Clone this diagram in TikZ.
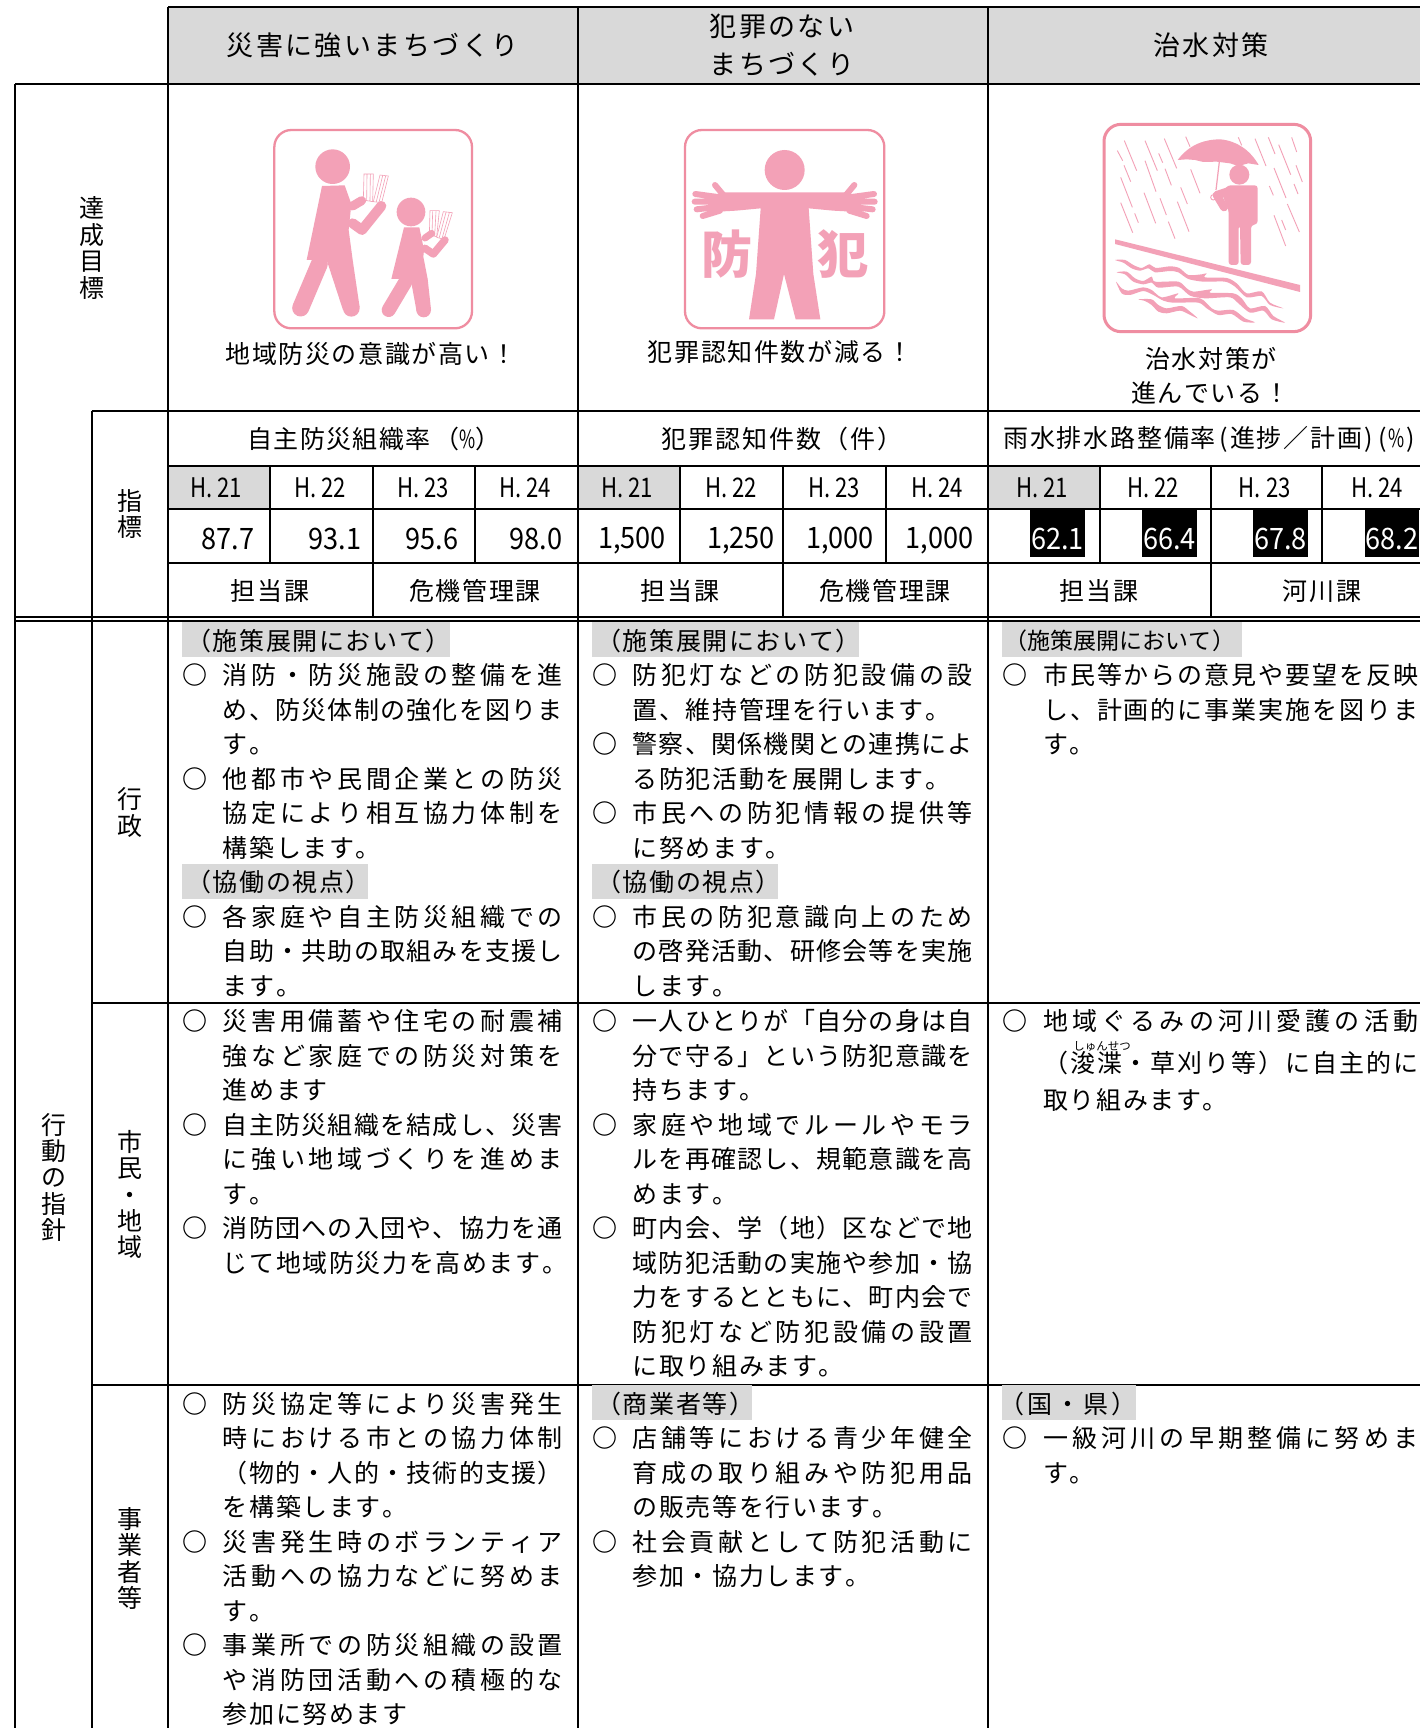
\documentclass[tikz,border=0pt]{standalone}
\usepackage{fontspec}
\usepackage{graphicx}
\setmainfont{Noto Sans CJK JP}
\definecolor{headgrey}{HTML}{D9D9D9}
\definecolor{bandgrey}{HTML}{D9D9D9}
\definecolor{iconpink}{HTML}{F3A1B7}
\definecolor{framepink}{HTML}{EF8DA1}
\newcounter{tn}
\makeatletter
\newcommand\spacedchars[2]{\def\sepx{}\@tfor\ccitem:=#2\do{\sepx\ccitem\def\sepx{#1}}}
\makeatother
\newcommand\jstrut{\rule[-.12em]{0pt}{1em}}
\newcommand\bodyfont{\fontsize{25}{25}\selectfont}
\newcommand\headfont{\fontsize{27}{27}\selectfont}
\newcommand\justl[4]{\stepcounter{tn}\node[txt,anchor=west] (t\thetn) at (#1,#2) {\hbox to #3pt{\spacedchars{\hfil}{#4}}\jstrut};}
\newcommand\natl[3]{\stepcounter{tn}\node[txt,anchor=west] (t\thetn) at (#1,#2) {\spacedchars{\kern1.6pt}{#3}\jstrut};}
\newcommand\ctr[4][1.6]{\stepcounter{tn}\node[txt,anchor=center] (t\thetn) at (#2,#3) {\spacedchars{\kern#1pt}{#4}\jstrut};}
\newcommand\hd[3]{\stepcounter{tn}\node[txt,font=\headfont,anchor=center] (t\thetn) at (#1,#2) {\spacedchars{\kern2.4pt}{#3}\jstrut};}
\newcommand\nbr[3]{\stepcounter{tn}\node[txt,font=\fontsize{29.5}{29.5}\selectfont,anchor=east] (t\thetn) at (#1,#2) {\scalebox{.92}[1]{#3}\jstrut};}
\newcommand\hyr[2]{\stepcounter{tn}\node[txt,font=\fontsize{27}{27}\selectfont,anchor=center] (t\thetn) at (#1,487) {\scalebox{.82}[1]{H. #2}\jstrut};}
\newcommand\blk[2]{\fill[black] ({#1-27.3},510) rectangle ({#1+27.3},557);\stepcounter{tn}\node[txt,text=white,font=\fontsize{29.5}{29.5}\selectfont,anchor=center] (t\thetn) at (#1,538) {\scalebox{.92}[1]{#2}\jstrut};}
\newcommand\setcol[3]{\def\colx{#1}\def\colw{#2}\def\circx{#3}}
\newcommand\setrow[1]{\def\rowy{#1}}
\newcommand\J[2]{\justl{\colx}{{\rowy+34.5*#1}}{\colw}{#2}}
\newcommand\N[2]{\natl{\colx}{{\rowy+34.5*#1}}{#2}}
\newcommand\Cj[2]{\stepcounter{tn}\node[txt,anchor=center] (t\thetn) at (\circx,{\rowy+34.5*#1}) {\bfseries ○\jstrut};\J{#1}{#2}}
\newcommand\Bg[2]{\stepcounter{tn}\node[anchor=west,fill=bandgrey,inner sep=0,minimum height=35pt,minimum width=#2pt] (b\thetn) at ({\circx-13},{\rowy+34.5*#1-1}) {};}
\newcommand\Bd[3]{\Bg{#1}{#2}\natl{{\circx-9}}{{\rowy+34.5*#1}}{#3}}
\tikzset{txt/.style={inner sep=0,font=\bodyfont,text=black},
 thickline/.style={line width=2pt,black},
 thinline/.style={line width=1.5pt,black},
 pinkfill/.style={fill=iconpink,draw=none},
 frame/.style={draw=framepink,rounded corners=17pt,fill=white},
 book/.style={draw=iconpink,fill=white,line width=.6pt},
 rain/.style={draw=iconpink,line width=.9pt}}
\begin{document}%
\begin{tikzpicture}[x=1pt,y=-1pt]
\path[use as bounding box,fill=white] (0,0) rectangle (1419,1728);
\clip (0,0) rectangle (1425,1728);
% header fill
\fill[headgrey] (168,6.6) rectangle (1430,84);
\fill[headgrey] (168,466) rectangle (270,509);
\fill[headgrey] (578,466) rectangle (680,509);
\fill[headgrey] (988,466) rectangle (1100,509);
% black cells
\blk{1057.5}{62.1}\blk{1169.5}{66.4}\blk{1280.5}{67.8}\blk{1392}{68.2}
% grid
\draw[thickline] (168,6.6) -- (1430,6.6);
\draw[thickline] (15,84) -- (1430,84);
\draw[thickline] (91.5,411) -- (1430,411);
\draw[thinline] (168,466) -- (1430,466);
\draw[thinline] (168,509) -- (1430,509);
\draw[thinline] (168,563) -- (1430,563);
\draw[thickline] (15,617) -- (1430,617);
\draw[thickline] (15,620.5) -- (1430,620.5);
\draw[thickline] (91.5,1003) -- (1430,1003);
\draw[thickline] (91.5,1385) -- (1430,1385);
\draw[thickline] (15,84) -- (15,1730);
\draw[thickline] (91.5,411) -- (91.5,1730);
\draw[thickline] (168,6.6) -- (168,1730);
\draw[thickline] (578,6.6) -- (578,1730);
\draw[thickline] (988,6.6) -- (988,1730);
\foreach \vx in {270,475,680,886,1100,1322}{\draw[thinline] (\vx,466) -- (\vx,563);}
\foreach \vx in {373,783,1211}{\draw[thinline] (\vx,466) -- (\vx,617);}
% headers
\hd{372.6}{45}{災害に強いまちづくり}
\hd{782}{26.5}{犯罪のない}
\hd{782}{64}{まちづくり}
\hd{1211}{45}{治水対策}
% side labels
\ctr{91.5}{208}{達}\ctr{91.5}{235}{成}\ctr{91.5}{261}{目}\ctr{91.5}{288}{標}
\ctr{130}{501}{指}\ctr{130}{527}{標}
\ctr{130}{799}{行}\ctr{130}{826}{政}
\ctr{130}{1142}{市}\ctr{130}{1168}{民}\ctr{130}{1195}{・}\ctr{130}{1221}{地}\ctr{130}{1247}{域}
\ctr{130}{1519}{事}\ctr{130}{1545}{業}\ctr{130}{1572}{者}\ctr{130}{1598}{等}
\ctr{54}{1124.5}{行}\ctr{54}{1151}{動}\ctr{54}{1177}{の}\ctr{54}{1204}{指}\ctr{54}{1230}{針}
% captions
\ctr{371}{354}{地域防災の意識が高い！}
\ctr{780}{352}{犯罪認知件数が減る！}
\ctr{1211}{359}{治水対策が}
\ctr{1210}{392.5}{進んでいる！}
% indicators
\stepcounter{tn}\node[txt,anchor=center] (t\thetn) at (374,439) {\spacedchars{\kern1.4pt}{自主防災組織率}\kern4pt （\scalebox{.7}[1]{\%}）\jstrut};
\ctr[1.9]{782}{439}{犯罪認知件数（件）}
\stepcounter{tn}\node[txt,anchor=west] (t\thetn) at (1003,439) {\hbox to 412pt{\spacedchars{\hfil}{雨水排水路整備率{\kern2pt (}進捗／計画{)\,}{(}{\scalebox{.7}[1]{\%}}{)}}\jstrut}};
\hyr{216}{21}\hyr{320}{22}\hyr{423}{23}\hyr{525}{24}
\hyr{627}{21}\hyr{731}{22}\hyr{834}{23}\hyr{937}{24}
\hyr{1042}{21}\hyr{1153}{22}\hyr{1264.7}{23}\hyr{1377}{24}
\nbr{254.6}{538}{87.7}\nbr{361.6}{538}{93.1}\nbr{458.6}{538}{95.6}\nbr{562.5}{538}{98.0}
\nbr{666}{538}{1,500}\nbr{775}{538}{1,250}\nbr{874}{538}{1,000}\nbr{973.5}{538}{1,000}
\ctr{270}{591}{担当課}\ctr{475}{591}{危機管理課}
\ctr{680}{591}{担当課}\ctr{885}{591}{危機管理課}
\ctr{1099}{591}{担当課}\ctr{1322}{591}{河川課}
% ---- column 1
\setcol{222.7}{340}{195}
\setrow{640.5}
\Bd{0}{268}{（施策展開において）}
\Cj{1}{消防・防災施設の整備を進}
\J{2}{め、防災体制の強化を図りま}
\N{3}{す。}
\Cj{4}{他都市や民間企業との防災}
\J{5}{協定により相互協力体制を}
\N{6}{構築します。}
\Bd{7}{186}{（協働の視点）}
\Cj{8}{各家庭や自主防災組織での}
\J{9}{自助・共助の取組みを支援し}
\N{10}{ます。}
\setrow{1021}
\Cj{0}{災害用備蓄や住宅の耐震補}
\J{1}{強など家庭での防災対策を}
\N{2}{進めます}
\Cj{3}{自主防災組織を結成し、災害}
\J{4}{に強い地域づくりを進めま}
\N{5}{す。}
\Cj{6}{消防団への入団や、協力を通}
\N{7}{じて地域防災力を高めます。}
\setrow{1403.5}
\Cj{0}{防災協定等により災害発生}
\J{1}{時における市との協力体制}
\J{2}{（物的・人的・技術的支援）}
\N{3}{を構築します。}
\Cj{4}{災害発生時のボランティア}
\J{5}{活動への協力などに努めま}
\N{6}{す。}
\Cj{7}{事業所での防災組織の設置}
\J{8}{や消防団活動への積極的な}
\N{9}{参加に努めます}
% ---- column 2
\setcol{632.5}{340}{605}
\setrow{640.5}
\Bd{0}{267}{（施策展開において）}
\Cj{1}{防犯灯などの防犯設備の設}
\N{2}{置、維持管理を行います。}
\Cj{3}{警察、関係機関との連携によ}
\N{4}{る防犯活動を展開します。}
\Cj{5}{市民への防犯情報の提供等}
\N{6}{に努めます。}
\Bd{7}{186}{（協働の視点）}
\Cj{8}{市民の防犯意識向上のため}
\J{9}{の啓発活動、研修会等を実施}
\N{10}{します。}
\setrow{1021}
\Cj{0}{一人ひとりが「自分の身は自}
\J{1}{分で守る」という防犯意識を}
\N{2}{持ちます。}
\Cj{3}{家庭や地域でルールやモラ}
\J{4}{ルを再確認し、規範意識を高}
\N{5}{めます。}
\Cj{6}{町内会、学（地）区などで地}
\J{7}{域防犯活動の実施や参加・協}
\J{8}{力をするとともに、町内会で}
\J{9}{防犯灯など防犯設備の設置}
\N{10}{に取り組みます。}
\setrow{1403.5}
\Bd{0}{160}{（商業者等）}
\Cj{1}{店舗等における青少年健全}
\J{2}{育成の取り組みや防犯用品}
\N{3}{の販売等を行います。}
\Cj{4}{社会貢献として防犯活動に}
\N{5}{参加・協力します。}
% ---- column 3
\setcol{1043}{375}{1015}
\setrow{640.5}
\Bg{0}{240}
\stepcounter{tn}\node[txt,font=\fontsize{23}{23}\selectfont,anchor=west] (t\thetn) at (1004,640.5) {\spacedchars{\kern.1pt}{（施策展開において）}\jstrut};
\Cj{1}{市民等からの意見や要望を反映}
\J{2}{し、計画的に事業実施を図りま}
\N{3}{す。}
\setrow{1021}
\Cj{0}{地域ぐるみの河川愛護の活動}
\justl{\colx}{1063}{\colw}{（浚渫・草刈り等）に自主的に}
\natl{\colx}{1099.5}{取り組みます。}
\stepcounter{tn}\node[txt,font=\fontsize{11.5}{11.5}\selectfont,anchor=center] (t\thetn) at (1102,1046) {しゅんせつ};
\setrow{1403.5}
\Bg{0}{133.5}
\stepcounter{tn}\node[txt,anchor=west] (t\thetn) at (999,1403.5) {\spacedchars{\kern3pt}{（国・県）}\jstrut};
\Cj{1}{一級河川の早期整備に努めま}
\N{2}{す。}
% ---- icon 1
\begin{scope}[x=.33333pt,y=-.33333pt,shift={(160pt,-80pt)}]
\draw[frame,line width=2.3pt] (343,150) rectangle (936,745);
\fill[iconpink] (518,260) circle (52);
\fill[iconpink] (486,318) -- (554,316) -- (574,372) -- (566,450) -- (578,540) -- (440,540) -- cycle;
\draw[iconpink,line width=17pt,line cap=round] (478,552) -- (422,684);
\fill[iconpink] (500,540) -- (578,540) -- (599,682) -- (549,690) -- cycle;
\fill[iconpink] (574,685) circle (25);
\draw[book] (612,282) -- (640,282) -- (638,365) -- (610,360) -- cycle (621,284) -- (620,360) (631,284) -- (630,362);
\draw[book] (660,285) -- (685,288) -- (665,368) -- (640,365) -- cycle (668,287) -- (649,365) (677,288) -- (657,367);
\draw[iconpink,line width=9pt,line cap=round] (578,378) -- (605,362);
\draw[iconpink,line width=10pt,line cap=round,line join=round] (578,430) -- (606,450) -- (664,378);
\fill[iconpink] (732,442) -- (778,442) -- (792,510) -- (790,530) -- (803,597) -- (694,597) -- cycle;
\fill[iconpink] (753,396) circle (43);
\draw[iconpink,line width=14pt,line cap=round] (736,606) -- (686,690);
\fill[iconpink] (752,597) -- (803,597) -- (813,688) -- (770,695) -- cycle;
\fill[iconpink] (791,690) circle (22);
\draw[book] (810,392) -- (838,392) -- (830,470) -- (808,465) -- cycle (818,394) -- (816,466) (828,394) -- (824,468);
\draw[book] (850,395) -- (877,398) -- (852,478) -- (830,472) -- cycle (858,397) -- (838,472) (868,398) -- (846,476);
\draw[iconpink,line width=7pt,line cap=round] (795,474) -- (815,460);
\draw[iconpink,line width=7.5pt,line cap=round,line join=round] (795,505) -- (820,522) -- (855,480);
\end{scope}
% ---- icon 2
\begin{scope}[x=.33333pt,y=-.33333pt,shift={(580pt,-80pt)}]
\draw[frame,line width=2.3pt] (315,150) rectangle (913,745);
\fill[iconpink] (614,270) circle (60);
\fill[iconpink] (425,337) -- (803,337) -- (815,395) -- (760,392) -- (686,385) -- (700,582) -- (721,718) -- (647,718) -- (612,582) -- (582,718) -- (507,718) -- (528,582) -- (542,385) -- (468,392) -- (413,395) -- cycle;
\draw[iconpink,line width=6pt,line cap=round]
 (430,345) -- (405,315) (420,352) -- (346,342) (420,365) -- (344,365) (420,380) -- (350,388) (420,392) -- (368,408)
 (798,345) -- (823,315) (808,352) -- (882,342) (808,365) -- (884,365) (808,380) -- (878,388) (808,392) -- (860,408);
\stepcounter{tn}\node[inner sep=0,text=iconpink,font=\fontsize{51}{51}\selectfont\bfseries] (t\thetn) at (442,522) {防};
\stepcounter{tn}\node[inner sep=0,text=iconpink,font=\fontsize{51}{51}\selectfont\bfseries] (t\thetn) at (790,522) {犯};
\end{scope}
% ---- icon 3
\begin{scope}[x=.33333pt,y=-.33333pt,shift={(1000pt,-80pt)}]
\draw[frame,line width=3pt] (312,133) rectangle (932,755);
\foreach \ax/\ay/\bx/\by in {373/182/410/272,435/182/472/272,493/176/530/265,557/170/570/200,352/212/368/242,372/256/392/305,435/242/468/335,476/220/488/248,495/266/514/316,572/268/600/340,362/292/397/382,432/338/467/430,480/355/499/405,542/322/562/372,532/365/567/455,362/368/398/458,404/400/415/428,505/425/525/476,715/172/725/196,765/176/798/258,805/172/825/222,836/194/872/284,875/172/890/216,888/256/907/306,822/264/858/354,808/318/820/346,882/312/894/342,862/372/898/456,822/406/857/498,845/420/857/450}
 {\draw[rain] (\ax,\ay) -- (\bx,\by);}
\fill[iconpink] (533,240) .. controls (570,190) and (620,178) .. (660,178) .. controls (710,182) and (750,210) .. (776,255) -- (745,250) -- (715,258) -- (690,250) -- (650,245) -- (610,246) -- (585,240) -- (560,238) -- cycle;
\draw[iconpink,line width=1.2pt] (658,245) -- (648,330);
\draw[iconpink,line width=.9pt] (640,352) circle (8);
\fill[iconpink] (718,284) circle (30);
\fill[iconpink,rounded corners=3pt] (683,316) -- (773,316) -- (773,432) -- (753,436) -- (753,555) -- (722,555) -- (720,436) -- (716,436) -- (716,555) -- (686,555) -- (686,392) -- (665,340) -- cycle;
\draw[iconpink,line width=8pt,line cap=round,line join=round] (680,335) -- (650,345) -- (672,382);
\fill[iconpink] (345,478) -- (900,615) -- (900,636) -- (345,492) -- cycle;
\begin{scope}[shift={(270,480)}]
\fill[iconpink] plot[smooth cycle,tension=.45] coordinates {(75,60) (105,60) (130,75) (155,84) (178,73) (197,84) (240,79) (268,84) (295,105) (335,103) (350,100) (345,112) (410,114) (440,130) (470,160) (515,154) (540,188) (580,205) (540,195) (515,168) (470,172) (435,140) (405,125) (340,125) (295,117) (265,97) (240,93) (195,97) (175,85) (150,92) (125,85) (100,68)};
\fill[iconpink] plot[smooth cycle,tension=.45] coordinates {(80,97) (110,95) (135,115) (160,123) (185,110) (195,125) (265,125) (290,145) (310,155) (365,148) (360,158) (430,160) (455,175) (480,205) (525,198) (550,228) (585,248) (545,238) (520,212) (480,218) (445,190) (420,172) (345,175) (300,167) (265,140) (205,143) (185,128) (160,133) (130,125) (105,103)};
\fill[iconpink] plot[smooth cycle,tension=.45] coordinates {(78,125) (95,145) (115,152) (160,142) (185,150) (215,172) (265,160) (255,175) (330,175) (365,205) (385,212) (430,210) (465,235) (495,247) (460,245) (425,222) (385,225) (350,205) (325,188) (250,188) (220,182) (190,165) (160,153) (120,165) (95,160)};
\fill[iconpink] plot[smooth cycle,tension=.45] coordinates {(145,178) (185,178) (205,195) (230,205) (275,198) (300,215) (323,235) (295,222) (270,212) (230,220) (205,215) (185,195) (165,183)};
\end{scope}
\end{scope}
\end{tikzpicture}%
\end{document}
